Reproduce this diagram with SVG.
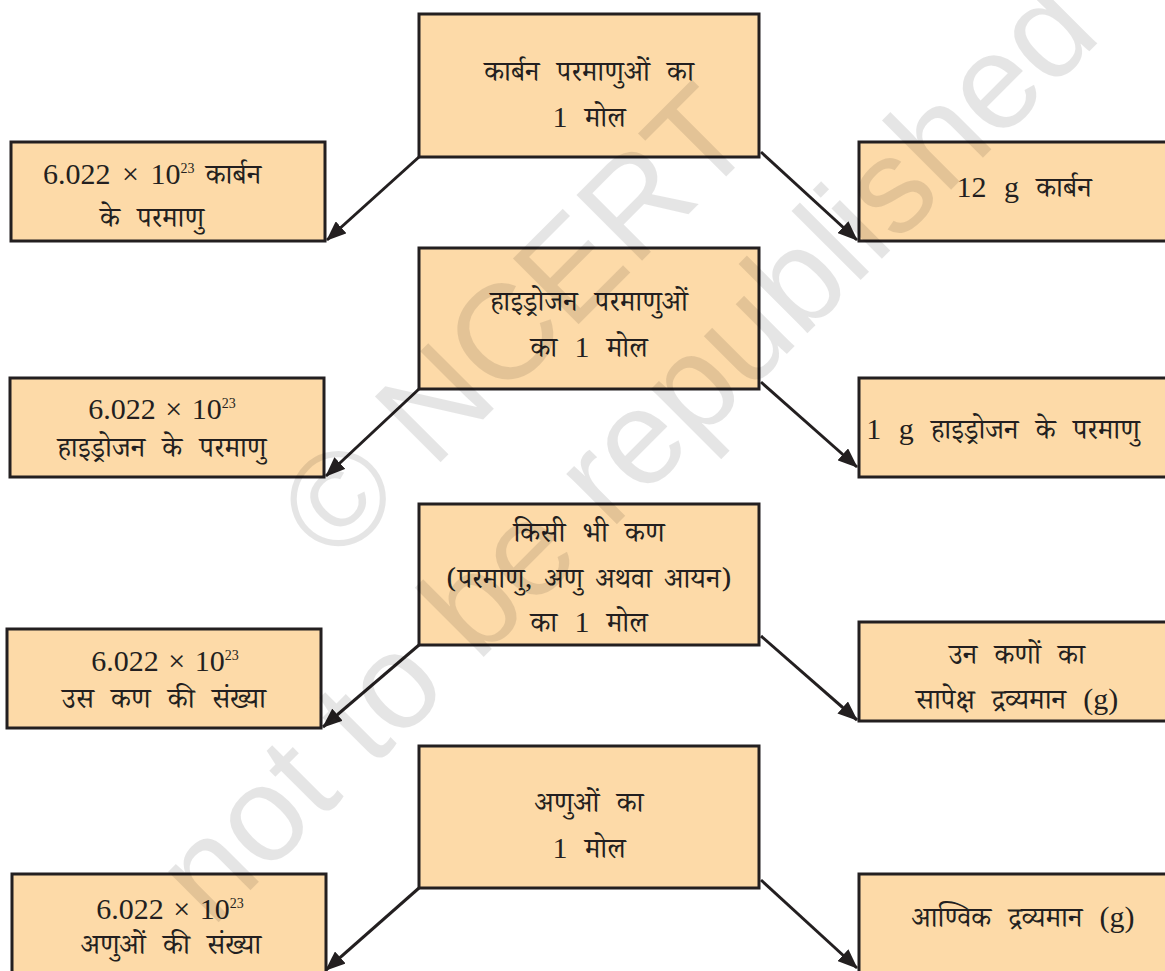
<svg xmlns="http://www.w3.org/2000/svg" width="1165" height="971" viewBox="0 0 1165 971">
<defs>
<style>
.box{fill:#fddaa8;stroke:#231f20;stroke-width:3}
.t{font-family:"Noto Serif Devanagari","Noto Sans Devanagari","Lohit Devanagari","Liberation Serif",serif;font-size:28px;word-spacing:10px;fill:#231f20;text-anchor:middle}
.n{font-family:"Liberation Serif",serif;font-size:30px}
.s{font-family:"Liberation Serif",serif;font-size:14px}
.c{fill:none;stroke:#231f20;stroke-width:3;marker-end:url(#ah)}
.wm{font-family:"Liberation Sans",sans-serif;font-size:135px;word-spacing:0;fill:#000;fill-opacity:0.1;text-anchor:middle;dominant-baseline:central}
</style>
<marker id="ah" viewBox="0 0 20 16" refX="19" refY="8" markerWidth="20" markerHeight="16" markerUnits="userSpaceOnUse" orient="auto">
<path d="M0,0 L20,8 L0,16 z" fill="#231f20"/>
</marker>
</defs>
<rect width="1165" height="971" fill="#fff"/>
<g id="connectors">
<path class="c" d="M419,157 L327,240"/>
<path class="c" d="M761,152 L857,240"/>
<path class="c" d="M419,389 L326,476"/>
<path class="c" d="M761,382 L857,467"/>
<path class="c" d="M419,645 L323,727"/>
<path class="c" d="M761,636 L857,720"/>
<path class="c" d="M419,888 L326,970"/>
<path class="c" d="M761,880 L857,968"/>
</g>
<g id="c1"><rect class="box" x="419" y="14" width="340" height="143"/>
<text class="t" x="589" y="81">कार्बन परमाणुओं का</text>
<text class="t" x="589" y="127"><tspan class="n">1</tspan> मोल</text></g>
<g id="l1"><rect class="box" x="11" y="142" width="314" height="99"/>
<text class="t" x="152" y="184" style="word-spacing:4px"><tspan class="n">6.022 × 10</tspan><tspan class="s" dy="-11">23</tspan><tspan dy="11"> कार्बन</tspan></text>
<text class="t" x="152" y="227">के परमाणु</text></g>
<g id="r1"><rect class="box" x="859" y="142" width="320" height="99"/>
<text class="t" x="1024" y="197"><tspan class="n">12 g</tspan> कार्बन</text></g>
<g id="c2"><rect class="box" x="419" y="248" width="340" height="141"/>
<text class="t" x="589" y="311">हाइड्रोजन परमाणुओं</text>
<text class="t" x="589" y="357">का <tspan class="n">1</tspan> मोल</text></g>
<g id="l2"><rect class="box" x="10" y="378" width="314" height="99"/>
<text class="t" x="162" y="419" style="word-spacing:2px"><tspan class="n">6.022 × 10</tspan><tspan class="s" dy="-11">23</tspan></text>
<text class="t" x="162" y="457">हाइड्रोजन के परमाणु</text></g>
<g id="r2"><rect class="box" x="859" y="378" width="320" height="99"/>
<text class="t" x="1003" y="439"><tspan class="n">1 g</tspan> हाइड्रोजन के परमाणु</text></g>
<g id="c3"><rect class="box" x="419" y="504" width="340" height="141"/>
<text class="t" x="589" y="542">किसी भी कण</text>
<text class="t" x="589" y="588" style="word-spacing:5px">(परमाणु, अणु अथवा आयन)</text>
<text class="t" x="589" y="632">का <tspan class="n">1</tspan> मोल</text></g>
<g id="l3"><rect class="box" x="7" y="629" width="314" height="99"/>
<text class="t" x="165" y="671" style="word-spacing:2px"><tspan class="n">6.022 × 10</tspan><tspan class="s" dy="-11">23</tspan></text>
<text class="t" x="164" y="708">उस कण की संख्या</text></g>
<g id="r3"><rect class="box" x="859" y="622" width="320" height="99"/>
<text class="t" x="1017" y="664">उन कणों का</text>
<text class="t" x="1017" y="709">सापेक्ष द्रव्यमान <tspan class="n">(g)</tspan></text></g>
<g id="c4"><rect class="box" x="419" y="746" width="340" height="142"/>
<text class="t" x="589" y="812">अणुओं का</text>
<text class="t" x="589" y="858"><tspan class="n">1</tspan> मोल</text></g>
<g id="l4"><rect class="box" x="12" y="874" width="314" height="110"/>
<text class="t" x="170" y="919" style="word-spacing:2px"><tspan class="n">6.022 × 10</tspan><tspan class="s" dy="-11">23</tspan></text>
<text class="t" x="171" y="954">अणुओं की संख्या</text></g>
<g id="r4"><rect class="box" x="859" y="874" width="320" height="110"/>
<text class="t" x="1023" y="927">आण्विक द्रव्यमान <tspan class="n">(g)</tspan></text></g>
<g id="watermark">
<text class="wm" x="515" y="322" transform="rotate(-45 515 322)">© NCERT</text>
<text class="wm" x="625" y="450" transform="rotate(-45 625 450)">not to be republished</text>
</g>
</svg>
